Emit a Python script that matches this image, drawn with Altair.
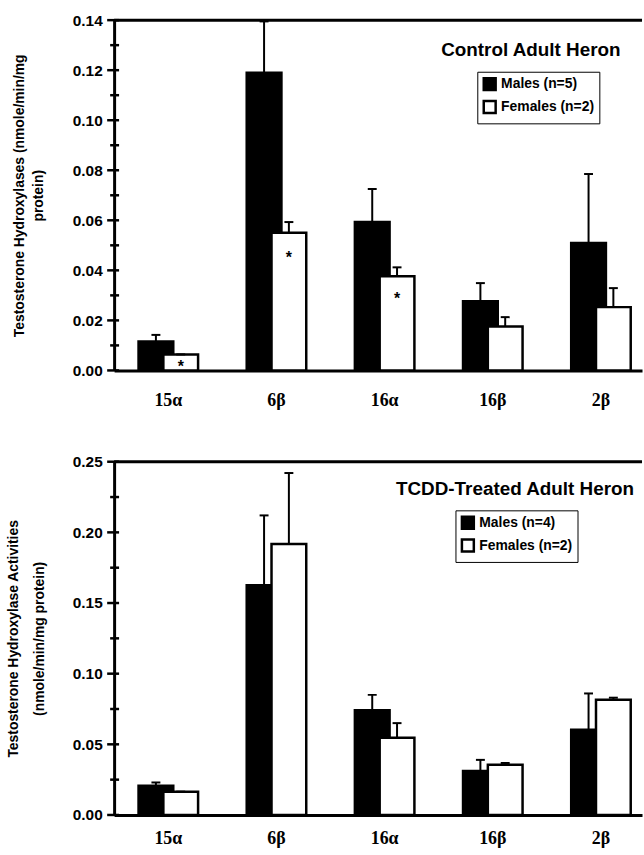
import altair as alt
import pandas as pd

categories = ["15α", "6β", "16α", "16β", "2β"]

# Control adult heron
ctrl_groups = ["Males (n=5)", "Females (n=2)"]
ctrl_male = [0.0116, 0.119, 0.0593, 0.0277, 0.0509]
ctrl_male_hi = [0.0142, 0.1395, 0.0725, 0.0349, 0.0785]
ctrl_female = [0.0064, 0.055, 0.0376, 0.0176, 0.0253]
ctrl_female_hi = [0.0064, 0.0593, 0.0412, 0.0213, 0.0329]
ctrl_star_cats = ["15α", "6β", "16α"]
ctrl_star_y = [0.003, 0.0467, 0.030]
ctrl_major = [0.00, 0.02, 0.04, 0.06, 0.08, 0.10, 0.12, 0.14]
ctrl_minor = [0.01, 0.03, 0.05, 0.07, 0.09, 0.11, 0.13]
ctrl_title = "Control Adult Heron"
ctrl_ytitle = ["Testosterone Hydroxylases (nmole/min/mg", "protein)"]

# TCDD-treated adult heron
tcdd_groups = ["Males (n=4)", "Females (n=2)"]
tcdd_male = [0.0207, 0.1626, 0.0742, 0.0312, 0.0604]
tcdd_male_hi = [0.023, 0.212, 0.085, 0.039, 0.086]
tcdd_female = [0.0165, 0.1918, 0.0546, 0.0356, 0.0815]
tcdd_female_hi = [0.0165, 0.242, 0.065, 0.0368, 0.083]
tcdd_major = [0.00, 0.05, 0.10, 0.15, 0.20, 0.25]
tcdd_minor = [0.025, 0.075, 0.125, 0.175, 0.225]
tcdd_title = "TCDD-Treated Adult Heron"
tcdd_ytitle = ["Testosterone Hydroxylase Activities", "(nmole/min/mg protein)"]

SANS = "Liberation Sans"
SERIF = "Liberation Serif"


def panel(groups, male, male_hi, female, female_hi, major, minor, title,
          ytitle, star_cats, star_y, height, lab_pad, title_x, title_lh,
          title_pos, legend_pos):
    rows = []
    for c, v, h in zip(categories, male, male_hi):
        rows.append({"cat": c, "grp": groups[0], "v": v, "hi": h})
    for c, v, h in zip(categories, female, female_hi):
        rows.append({"cat": c, "grp": groups[1], "v": v, "hi": h})
    df = pd.DataFrame(rows)
    ymax = max(major)

    xscale = alt.Scale(domain=categories, paddingInner=0.5413,
                       paddingOuter=0.211, align=0.644)
    oscale = alt.Scale(domain=groups, paddingInner=0, paddingOuter=0)
    yscale = alt.Scale(domain=[0, ymax], nice=False, zero=True)

    xaxis = alt.Axis(title=None, labelAngle=0, ticks=False, domainWidth=3,
                     domainColor="black", labelFont=SERIF,
                     labelFontWeight="bold", labelFontSize=18,
                     labelColor="black", labelPadding=lab_pad)
    yaxis = alt.Axis(values=major, format=".2f", ticks=False, grid=False,
                     domainWidth=3, domainColor="black", labelFont=SANS,
                     labelFontWeight="bold", labelFontSize=15.5,
                     labelColor="black", labelPadding=12,
                     title=ytitle, titleFont=SANS, titleFontWeight="bold",
                     titleFontSize=14, titleColor="black", titleX=title_x,
                     titleLineHeight=title_lh, titleBaseline="middle")

    base = alt.Chart(df)
    bars = base.mark_bar(width=35, stroke="black", strokeWidth=2.5).encode(
        x=alt.X("cat:N", scale=xscale, axis=xaxis),
        xOffset=alt.XOffset("grp:N", scale=oscale),
        y=alt.Y("v:Q", scale=yscale, axis=yaxis),
        color=alt.Color(
            "grp:N",
            scale=alt.Scale(domain=groups, range=["black", "white"]),
            legend=alt.Legend(
                title=None, orient="none", legendX=legend_pos[0],
                legendY=legend_pos[1], direction="vertical",
                fillColor="white", strokeColor="black", padding=5,
                symbolType="square", symbolSize=144,
                symbolStrokeColor="black", symbolStrokeWidth=2.5,
                labelFont=SANS, labelFontSize=14, labelFontWeight="bold",
                labelColor="black", rowPadding=0, labelOffset=4)),
    )
    rules = base.mark_rule(color="black", strokeWidth=2).encode(
        x="cat:N", xOffset="grp:N", y="v:Q", y2="hi:Q")
    caps = base.mark_tick(color="black", size=9, thickness=2,
                          orient="horizontal", opacity=1).encode(
        x="cat:N", xOffset="grp:N", y="hi:Q")

    layers = [bars, rules, caps]
    if star_cats:
        sdf = pd.DataFrame({"cat": star_cats, "grp": groups[1], "y": star_y})
        stars = alt.Chart(sdf).mark_text(
            text="*", font=SANS, fontSize=16, fontWeight="bold",
            color="black", baseline="middle", dy=4).encode(
            x="cat:N", xOffset="grp:N", y="y:Q")
        layers.append(stars)

    tmaj = alt.Chart(pd.DataFrame({"t": major})).mark_tick(
        color="black", size=12, thickness=2.5, orient="horizontal",
        opacity=1).encode(x=alt.value(-1), y="t:Q")
    tmin = alt.Chart(pd.DataFrame({"t": minor})).mark_tick(
        color="black", size=9, thickness=2.5, orient="horizontal",
        opacity=1).encode(x=alt.value(0.5), y="t:Q")
    top = alt.Chart(pd.DataFrame({"t": [ymax]})).mark_rule(
        color="black", strokeWidth=3).encode(y="t:Q")
    ttl = alt.Chart(pd.DataFrame({"t": [title]})).mark_text(
        font=SANS, fontSize=19, fontWeight="bold", color="black",
        align="center", baseline="middle").encode(
        text="t:N", x=alt.value(title_pos[0]), y=alt.value(title_pos[1]))
    layers += [tmaj, tmin, top, ttl]

    return alt.layer(*layers).properties(width=532, height=height)


top_panel = panel(ctrl_groups, ctrl_male, ctrl_male_hi, ctrl_female,
                  ctrl_female_hi, ctrl_major, ctrl_minor, ctrl_title,
                  ctrl_ytitle, ctrl_star_cats, ctrl_star_y, 353, 21,
                  -95.5, 19, (420, 30), (366, 52))
bottom_panel = panel(tcdd_groups, tcdd_male, tcdd_male_hi, tcdd_female,
                     tcdd_female_hi, tcdd_major, tcdd_minor, tcdd_title,
                     tcdd_ytitle, [], [], 356, 15,
                     -101, 26, (404, 28), (344, 49))

chart = alt.vconcat(top_panel, bottom_panel, spacing=46).resolve_scale(
    color="independent", x="independent", y="independent",
    xOffset="independent").resolve_legend(color="independent").properties(
    padding={"left": 7, "top": 10, "right": 0, "bottom": 0},
    background="white").configure_view(stroke=None)

chart.save("out.html", embed_options={"renderer": "svg", "actions": False})
